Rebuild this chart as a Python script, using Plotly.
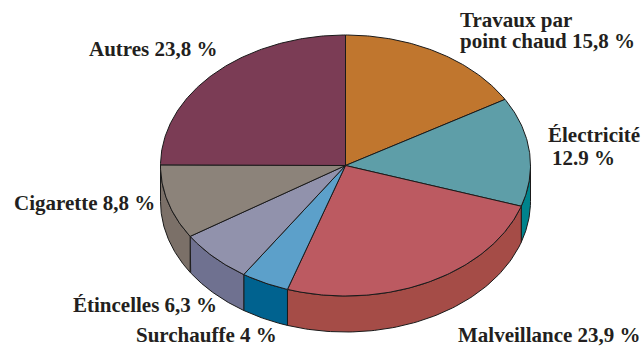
import numpy as np
import plotly.graph_objects as go

labels = ["Travaux par point chaud", "Électricité", "Malveillance", "Surchauffe",
          "Étincelles", "Cigarette", "Autres"]
values = [15.8, 12.9, 23.9, 4.0, 6.3, 8.8, 23.8]
value_texts = ["15,8 %", "12.9 %", "23,9 %", "4 %", "6,3 %", "8,8 %", "23,8 %"]

top_colors = ["#C0762E", "#5E9EA8", "#BC5A61", "#5CA0CA", "#9192AC", "#8C837A", "#7B3C55"]
side_colors = ["#9A5E24", "#00838C", "#A54C47", "#00628F", "#6F7190", "#7B7068", "#62304A"]

W, H = 643, 347
cx, cy, rx, ry, depth = 345.5, 165.5, 185.0, 130.5, 36.0
edge = dict(color="#1a1a1a", width=1)

total = float(sum(values))
bounds = np.concatenate([[0.0], np.cumsum(values) / total * 360.0])

def ell(t_deg, dy=0.0):
    t = np.radians(t_deg)
    return cx + rx * np.sin(t), cy - ry * np.cos(t) + dy

fig = go.Figure()

# side walls (visible front half only)
for i in range(len(values)):
    lo, hi = max(bounds[i], 90.0), min(bounds[i + 1], 270.0)
    if hi <= lo:
        continue
    t = np.linspace(lo, hi, 80)
    xt, yt = ell(t)
    xb, yb = ell(t, depth)
    xs = np.concatenate([xt, xb[::-1], xt[:1]])
    ys = np.concatenate([yt, yb[::-1], yt[:1]])
    fig.add_trace(go.Scatter(x=xs, y=ys, mode="lines", fill="toself",
                             fillcolor=side_colors[i], line=edge,
                             hoverinfo="skip", showlegend=False))

# top faces
for i in range(len(values)):
    n = max(int((bounds[i + 1] - bounds[i]) * 1.5), 10)
    t = np.linspace(bounds[i], bounds[i + 1], n)
    xt, yt = ell(t)
    xs = np.concatenate([[cx], xt, [cx]])
    ys = np.concatenate([[cy], yt, [cy]])
    fig.add_trace(go.Scatter(x=xs, y=ys, mode="lines", fill="toself",
                             fillcolor=top_colors[i], line=edge,
                             name=labels[i], text=labels[i] + " " + value_texts[i],
                             hoverinfo="text", showlegend=False))

# labels (left x, visual center y)
label_lines = [
    ("Travaux par", 459, 20),
    ("point chaud " + value_texts[0], 459, 41),
    ("Électricité", 547, 135),
    (value_texts[1], 551, 158),
    ("Malveillance " + value_texts[2], 457, 335),
    ("Surchauffe " + value_texts[3], 135, 335),
    ("Étincelles " + value_texts[4], 72, 305),
    ("Cigarette " + value_texts[5], 13, 203),
    ("Autres " + value_texts[6], 88, 49),
]
for txt, x, y in label_lines:
    fig.add_annotation(x=x, y=y, xref="x", yref="y", text="<b>" + txt + "</b>",
                       showarrow=False, xanchor="left", yanchor="middle",
                       borderpad=0,
                       font=dict(family="Liberation Serif", size=21, color="#231f20"))

fig.update_xaxes(range=[0, W], visible=False, fixedrange=True)
fig.update_yaxes(range=[H, 0], visible=False, fixedrange=True)
fig.update_layout(width=W, height=H, margin=dict(l=0, r=0, t=0, b=0),
                  paper_bgcolor="white", plot_bgcolor="white")

fig.write_html("out.html")
